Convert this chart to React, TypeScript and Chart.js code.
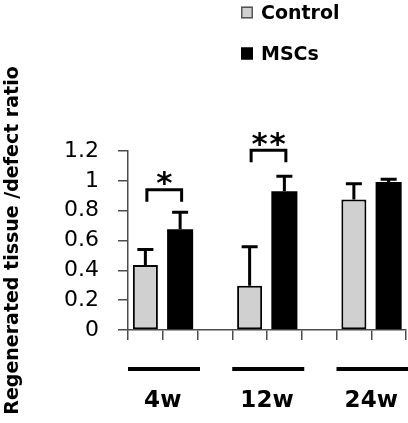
import React, { useEffect, useRef } from "react";
import { Chart, registerables } from "chart.js";

Chart.register(...registerables);

// ---- Data ----
const groups = ["4w", "12w", "24w"];
const seriesNames = ["Control", "MSCs"];
const controlValues = [0.435, 0.297, 0.875];
const controlUpper = [0.54, 0.558, 0.98];
const mscValues = [0.675, 0.93, 0.993];
const mscUpper = [0.79, 1.03, 1.01];
const yTicks = { min: 0, max: 1.2, step: 0.2 };
const significance = [
  { group: 0, top: 0.94, bottom: 0.86, label: "*" },
  { group: 1, top: 1.205, bottom: 1.125, label: "**" },
];
const yTitle = "Regenerated tissue /defect ratio";

const CONTROL_COLOR = "#d0d0d0";
const MSC_COLOR = "#000000";
const AXIS_COLOR = "#4d4d4d";

// slots: control, msc, gap per group (no trailing gap)
const slotLabels: string[] = [];
groups.forEach((g, i) => {
  slotLabels.push(g + " Control", g + " MSCs");
  if (i < groups.length - 1) slotLabels.push(g + " gap");
});
const slotOf = (g: number, s: number) => g * 3 + s;
const spread = (vals: number[], s: number) =>
  slotLabels.map((_, i) => {
    const g = Math.floor(i / 3);
    return i % 3 === s && g < vals.length ? vals[g] : null;
  });

const uppers = [controlUpper, mscUpper];

const overlayPlugin = {
  id: "overlay",
  afterDatasetsDraw(chart: any) {
    const ctx = chart.ctx;
    const y = chart.scales.y;
    ctx.save();
    ctx.strokeStyle = "#000";
    ctx.lineWidth = 3;
    ctx.lineCap = "butt";
    [0, 1].forEach((d) => {
      const meta = chart.getDatasetMeta(d);
      groups.forEach((_, g) => {
        const el = meta.data[slotOf(g, d)];
        if (!el) return;
        const x = el.x;
        const yTop = el.y;
        const yErr = y.getPixelForValue(uppers[d][g]);
        ctx.beginPath();
        ctx.moveTo(x, yTop);
        ctx.lineTo(x, yErr);
        ctx.moveTo(x - 8, yErr);
        ctx.lineTo(x + 8, yErr);
        ctx.stroke();
      });
    });
    ctx.restore();
  },
  afterDraw(chart: any) {
    const ctx = chart.ctx;
    const xs = chart.scales.x;
    const ys = chart.scales.y;
    const slotW = (xs.right - xs.left) / slotLabels.length;
    ctx.save();
    // significance brackets
    ctx.strokeStyle = "#000";
    ctx.fillStyle = "#000";
    ctx.lineWidth = 3;
    significance.forEach((s) => {
      const x1 = xs.getPixelForValue(slotOf(s.group, 0)) + 1.5;
      const x2 = xs.getPixelForValue(slotOf(s.group, 1)) + 1.5;
      const yt = ys.getPixelForValue(s.top);
      const yb = ys.getPixelForValue(s.bottom);
      ctx.beginPath();
      ctx.moveTo(x1, yb);
      ctx.lineTo(x1, yt);
      ctx.lineTo(x2, yt);
      ctx.lineTo(x2, yb);
      ctx.stroke();
      const n = s.label.length;
      const cx = (x1 + x2) / 2;
      ctx.font = "bold 31px 'DejaVu Sans'";
      ctx.textAlign = "center";
      ctx.textBaseline = "alphabetic";
      for (let i = 0; i < n; i++) {
        const px = cx + (i - (n - 1) / 2) * 18;
        ctx.fillText(s.label[i], px, yt + 3.5);
      }
    });
    // group lines and labels below axis
    groups.forEach((g, gi) => {
      const left = xs.getPixelForValue(slotOf(gi, 0)) - slotW / 2;
      const right = xs.getPixelForValue(slotOf(gi, 1)) + slotW / 2 + 2.5;
      ctx.lineWidth = 4;
      ctx.beginPath();
      ctx.moveTo(left, 369);
      ctx.lineTo(right, 369);
      ctx.stroke();
      ctx.font = "bold 23px 'DejaVu Sans'";
      ctx.textAlign = "center";
      ctx.textBaseline = "alphabetic";
      ctx.fillText(g, (left + right - 2.5) / 2, 407);
    });
    // legend
    const ds = chart.data.datasets;
    const centers = [12.5, 53.5];
    ds.forEach((d: any, i: number) => {
      const cy = centers[i];
      ctx.fillStyle = d.backgroundColor;
      ctx.fillRect(241, cy - 6, 12, 12);
      ctx.strokeStyle = i === 0 ? "#555" : "#000";
      ctx.lineWidth = 1.5;
      ctx.strokeRect(241.75, cy - 5.25, 10.5, 10.5);
      ctx.fillStyle = "#000";
      ctx.font = "bold 19px 'DejaVu Sans'";
      ctx.textAlign = "left";
      ctx.textBaseline = "alphabetic";
      ctx.fillText(d.label, 261, cy + 6.5);
    });
    ctx.restore();
  },
};

export default function App() {
  const ref = useRef<HTMLCanvasElement>(null);
  useEffect(() => {
    document.body.style.margin = "0";
    const canvas = ref.current!;
    const chart = new Chart(canvas, {
      type: "bar",
      data: {
        labels: slotLabels,
        datasets: [
          {
            label: seriesNames[0],
            data: spread(controlValues, 0),
            backgroundColor: CONTROL_COLOR,
            borderColor: "#000",
            borderWidth: 2,
            borderSkipped: false,
            grouped: false,
            categoryPercentage: 1,
            barPercentage: 0.72,
          },
          {
            label: seriesNames[1],
            data: spread(mscValues, 1),
            backgroundColor: MSC_COLOR,
            borderColor: "#000",
            borderWidth: 0,
            grouped: false,
            categoryPercentage: 1,
            barPercentage: 0.75,
          },
        ] as any,
      },
      options: {
        responsive: false,
        animation: false,
        events: [],
        layout: { padding: { top: 151, right: 2, left: 0, bottom: 0 } },
        plugins: {
          legend: { display: false },
          tooltip: { enabled: false },
        },
        scales: {
          x: {
            type: "category",
            offset: true,
            grid: {
              offset: true,
              drawOnChartArea: false,
              drawTicks: true,
              tickLength: 10,
              color: AXIS_COLOR,
              lineWidth: 1.5,
            },
            border: { display: true, color: AXIS_COLOR, width: 1.5 },
            ticks: { display: false },
            afterFit: (s: any) => {
              s.height = 93;
            },
          },
          y: {
            min: yTicks.min,
            max: yTicks.max,
            grid: {
              drawOnChartArea: false,
              drawTicks: true,
              tickLength: 10,
              color: AXIS_COLOR,
              lineWidth: 1.5,
            },
            border: { display: true, color: AXIS_COLOR, width: 1.5 },
            ticks: {
              stepSize: yTicks.step,
              padding: 19,
              color: "#000",
              font: { family: "'DejaVu Sans'", size: 22 },
              callback: (v: any) => String(+Number(v).toFixed(1)),
            },
            title: {
              display: true,
              text: yTitle,
              color: "#000",
              font: { family: "'DejaVu Sans'", size: 19, weight: "bold" },
              padding: { top: 2, bottom: 0 },
            },
            afterFit: (s: any) => {
              s.width = 128;
            },
          },
        },
      },
      plugins: [overlayPlugin],
    });
    return () => chart.destroy();
  }, []);
  return (
    <canvas
      ref={ref}
      width={408}
      height={423}
      style={{ display: "block", width: 408, height: 423 }}
    />
  );
}
